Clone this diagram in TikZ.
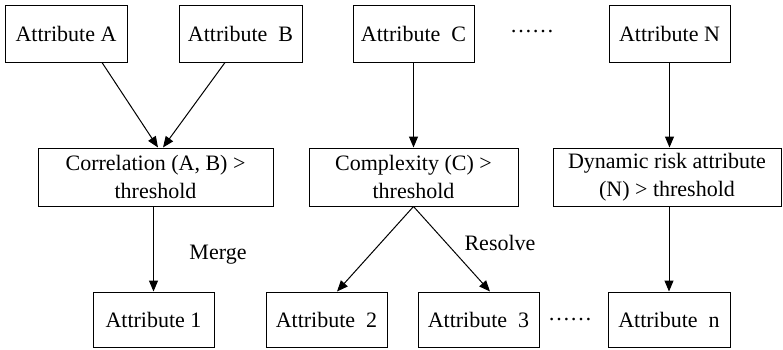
\documentclass[tikz,border=0pt]{standalone}
\usepackage{fontspec}
\setmainfont{Liberation Serif}
\usetikzlibrary{arrows.meta}
\begin{document}
\begin{tikzpicture}[x=1pt,y=-1pt,
  box/.style={draw,line width=1pt,inner sep=0pt,align=center,font=\fontsize{22}{28}\selectfont},
  arr/.style={line width=1pt,-{Triangle[length=11pt,width=9pt]}},
  lbl/.style={inner sep=0pt,font=\fontsize{22}{28}\selectfont}]
\useasboundingbox (0,0) rectangle (783,349);
% top row
\node[box,minimum width=122pt,minimum height=57pt] (a) at (66,33.5) {Attribute A};
\node[box,minimum width=123pt,minimum height=57pt] (b) at (240.5,33.5) {Attribute\ \ B};
\node[box,minimum width=121pt,minimum height=57pt] (c) at (413.5,33.5) {Attribute\ \ C};
\node[box,minimum width=121pt,minimum height=57pt] (n) at (669.5,33.5) {Attribute N};
\node[lbl] (d1) at (532,32) {……};
% middle row
\node[box,minimum width=235pt,minimum height=58pt] (corr) at (155.5,177) {Correlation (A, B) >\\threshold};
\node[box,minimum width=209pt,minimum height=58pt] (cplx) at (413.5,177) {Complexity (C) >\\threshold};
\node[box,minimum width=228pt,minimum height=58pt] (dyn) at (667,177) {Dynamic risk attribute\\(N) > threshold};
% bottom row
\node[box,minimum width=121pt,minimum height=55pt] (r1) at (153.5,319.5) {Attribute 1};
\node[box,minimum width=121pt,minimum height=55pt] (r2) at (326.5,319.5) {Attribute\ \ 2};
\node[box,minimum width=121pt,minimum height=55pt] (r3) at (478.5,319.5) {Attribute\ \ 3};
\node[box,minimum width=122pt,minimum height=55pt] (rn) at (669,319.5) {Attribute\ \ n};
\node[lbl] (d2) at (570,320) {……};
% labels
\node[lbl] (merge) at (218,255) {Merge};
\node[lbl] (resolve) at (500,243) {Resolve};
% connectors
\draw[arr] ([xshift=36pt]a.south) -- ([xshift=2.5pt]corr.north);
\draw[arr] ([xshift=-15.5pt]b.south) -- ([xshift=7.5pt]corr.north);
\draw[arr] (c.south) -- (cplx.north);
\draw[arr] (n.south) -- (n.south |- dyn.north);
\draw[arr] (r1.north |- corr.south) -- (r1.north);
\draw[arr] (cplx.south) -- ([xshift=10.5pt]r2.north);
\draw[arr] (cplx.south) -- ([xshift=11.5pt]r3.north);
\draw[arr] (rn.north |- dyn.south) -- (rn.north);
\end{tikzpicture}
\end{document}
